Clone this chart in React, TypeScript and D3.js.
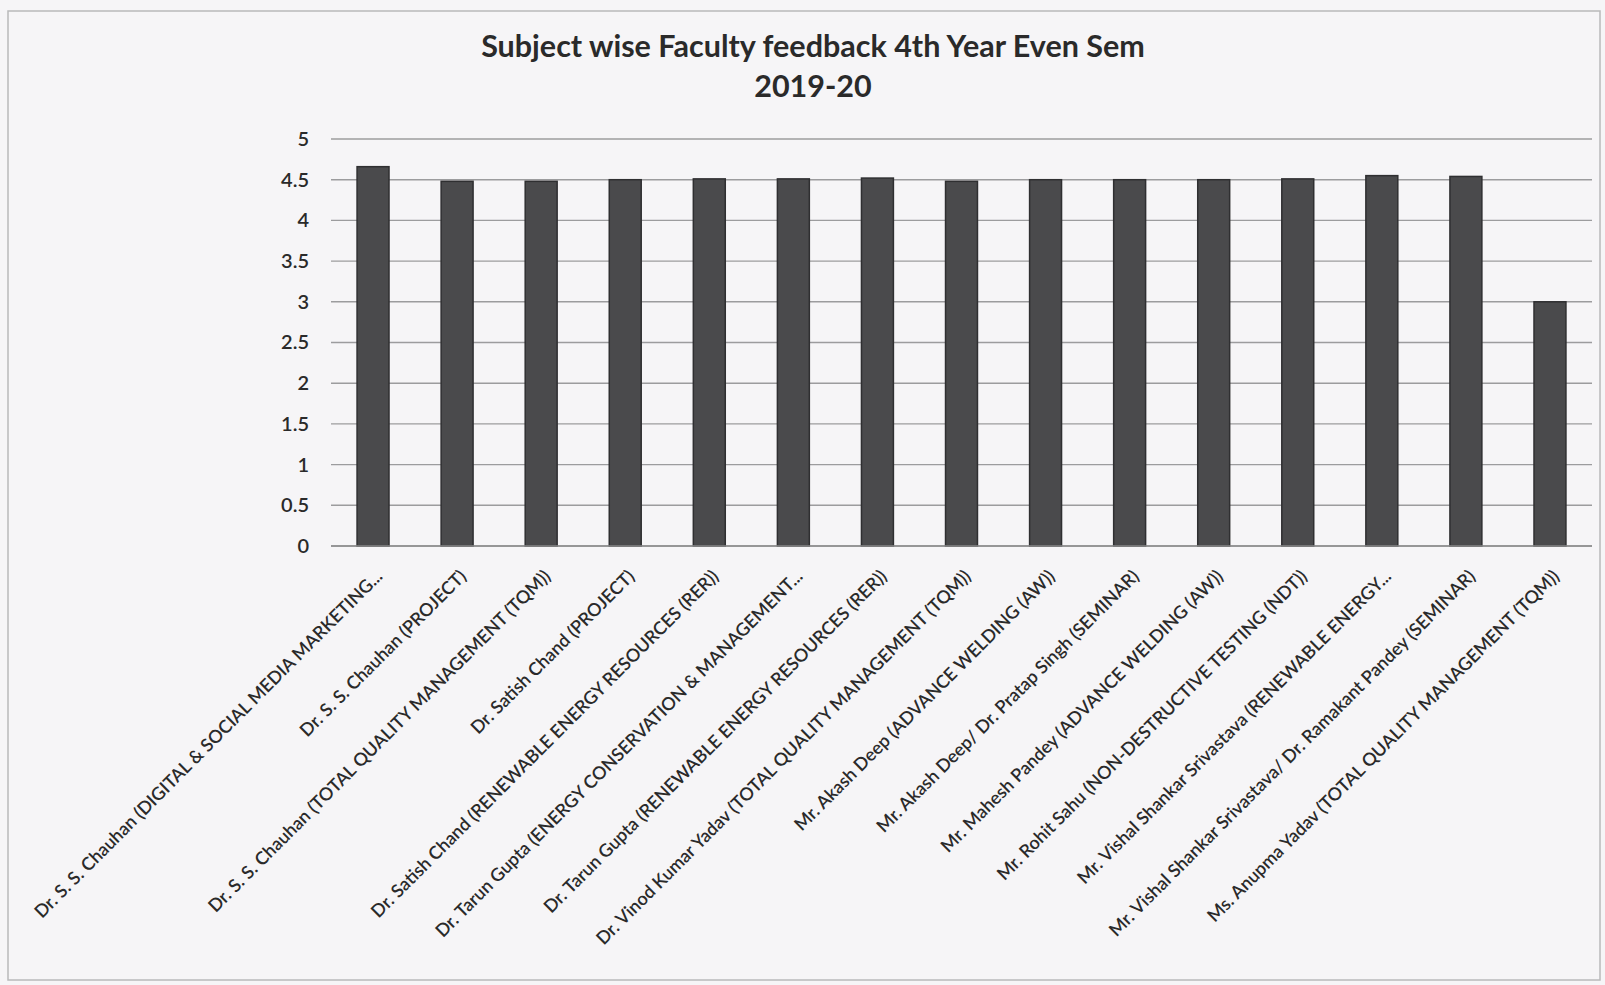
import * as d3 from "d3";
import { useEffect, useRef } from "react";

const faculty = [
  "Dr. S. S. Chauhan (DIGITAL & SOCIAL MEDIA MARKETING...",
  "Dr. S. S. Chauhan (PROJECT)",
  "Dr. S. S. Chauhan (TOTAL QUALITY MANAGEMENT (TQM))",
  "Dr. Satish Chand (PROJECT)",
  "Dr. Satish Chand (RENEWABLE ENERGY RESOURCES (RER))",
  "Dr. Tarun Gupta (ENERGY CONSERVATION & MANAGEMENT...",
  "Dr. Tarun Gupta (RENEWABLE ENERGY RESOURCES (RER))",
  "Dr. Vinod Kumar Yadav (TOTAL QUALITY MANAGEMENT (TQM))",
  "Mr. Akash Deep (ADVANCE WELDING (AW))",
  "Mr. Akash Deep/ Dr. Pratap Singh (SEMINAR)",
  "Mr. Mahesh Pandey (ADVANCE WELDING (AW))",
  "Mr. Rohit Sahu (NON-DESTRUCTIVE TESTING (NDT))",
  "Mr. Vishal Shankar Srivastava (RENEWABLE ENERGY...",
  "Mr. Vishal Shankar Srivastava/ Dr. Ramakant Pandey (SEMINAR)",
  "Ms. Anupma Yadav (TOTAL QUALITY MANAGEMENT (TQM))",
];

const scores = [4.66, 4.48, 4.48, 4.5, 4.51, 4.51, 4.52, 4.48, 4.5, 4.5, 4.5, 4.51, 4.55, 4.54, 3.0];

const yTicks = [0, 0.5, 1, 1.5, 2, 2.5, 3, 3.5, 4, 4.5, 5];

const titleLines = ["Subject wise Faculty feedback 4th Year Even Sem", "2019-20"];

const W = 1605;
const H = 985;
const margin = { top: 139, right: 13, bottom: 439, left: 331 };
const font = "Lato, 'Open Sans', sans-serif";

const App = () => {
  const svgRef = useRef<SVGSVGElement | null>(null);

  useEffect(() => {
    const svg = d3.select(svgRef.current);
    svg.selectAll("*").remove();

    const innerW = W - margin.left - margin.right;
    const innerH = H - margin.top - margin.bottom;

    // background + chart border
    svg.append("rect").attr("width", W).attr("height", H).attr("fill", "#f6f5f7");
    svg.append("rect")
      .attr("x", 8).attr("y", 11).attr("width", 1592).attr("height", 969)
      .attr("fill", "none").attr("stroke", "#b9b9bb").attr("stroke-width", 1.5);

    svg.append("g")
      .selectAll("text")
      .data(titleLines)
      .join("text")
      .attr("x", 813)
      .attr("y", (d, i) => 57 + i * 40)
      .attr("text-anchor", "middle")
      .attr("font-family", font)
      .attr("font-weight", 700)
      .attr("font-size", 30.5)
      .attr("fill", "#2a2a2a")
      .text(d => d);

    const x = d3.scaleBand()
      .domain(faculty)
      .range([0, innerW])
      .paddingInner(0.62)
      .paddingOuter(0.31);

    const y = d3.scaleLinear().domain([0, 5]).range([innerH, 0]);

    const g = svg.append("g").attr("transform", `translate(${margin.left},${margin.top})`);

    // gridlines
    g.append("g")
      .selectAll("line")
      .data(yTicks)
      .join("line")
      .attr("x1", 0)
      .attr("x2", innerW)
      .attr("y1", d => y(d))
      .attr("y2", d => y(d))
      .attr("stroke", "#9c9c9e")
      .attr("stroke-width", 1.4);

    // y axis labels
    const yAxis = g.append("g")
      .call(d3.axisLeft(y).tickValues(yTicks).tickSize(0).tickPadding(22).tickFormat(d => String(d)));
    yAxis.select(".domain").remove();
    yAxis.selectAll("text")
      .attr("font-family", font)
      .attr("font-size", 20)
      .attr("font-weight", 600)
      .attr("fill", "#2a2a2a");

    // bars
    g.append("g")
      .selectAll("rect")
      .data(scores)
      .join("rect")
      .attr("x", (d, i) => x(faculty[i]) ?? 0)
      .attr("y", d => y(d))
      .attr("width", x.bandwidth())
      .attr("height", d => innerH - y(d))
      .attr("fill", "#4a4a4c")
      .attr("stroke", "#2f2f31")
      .attr("stroke-width", 1.5);

    // x axis line
    g.append("line")
      .attr("x1", 0).attr("x2", innerW)
      .attr("y1", innerH).attr("y2", innerH)
      .attr("stroke", "#8c8c8e").attr("stroke-width", 1.4);

    // rotated category labels
    g.append("g")
      .selectAll("text")
      .data(faculty)
      .join("text")
      .attr("transform", d => `translate(${(x(d) ?? 0) + x.bandwidth() / 2 + 6},${innerH + 27}) rotate(-45)`)
      .attr("text-anchor", "end")
      .attr("dy", "0.35em")
      .attr("font-family", font)
      .attr("font-size", 18)
      .attr("font-weight", 600)
      .attr("fill", "#2a2a2a")
      .text(d => d);
  }, []);

  return (
    <svg
      ref={svgRef}
      width={W}
      height={H}
      style={{ position: "absolute", left: 0, top: 0, display: "block" }}
    ></svg>
  );
};

export default App;
